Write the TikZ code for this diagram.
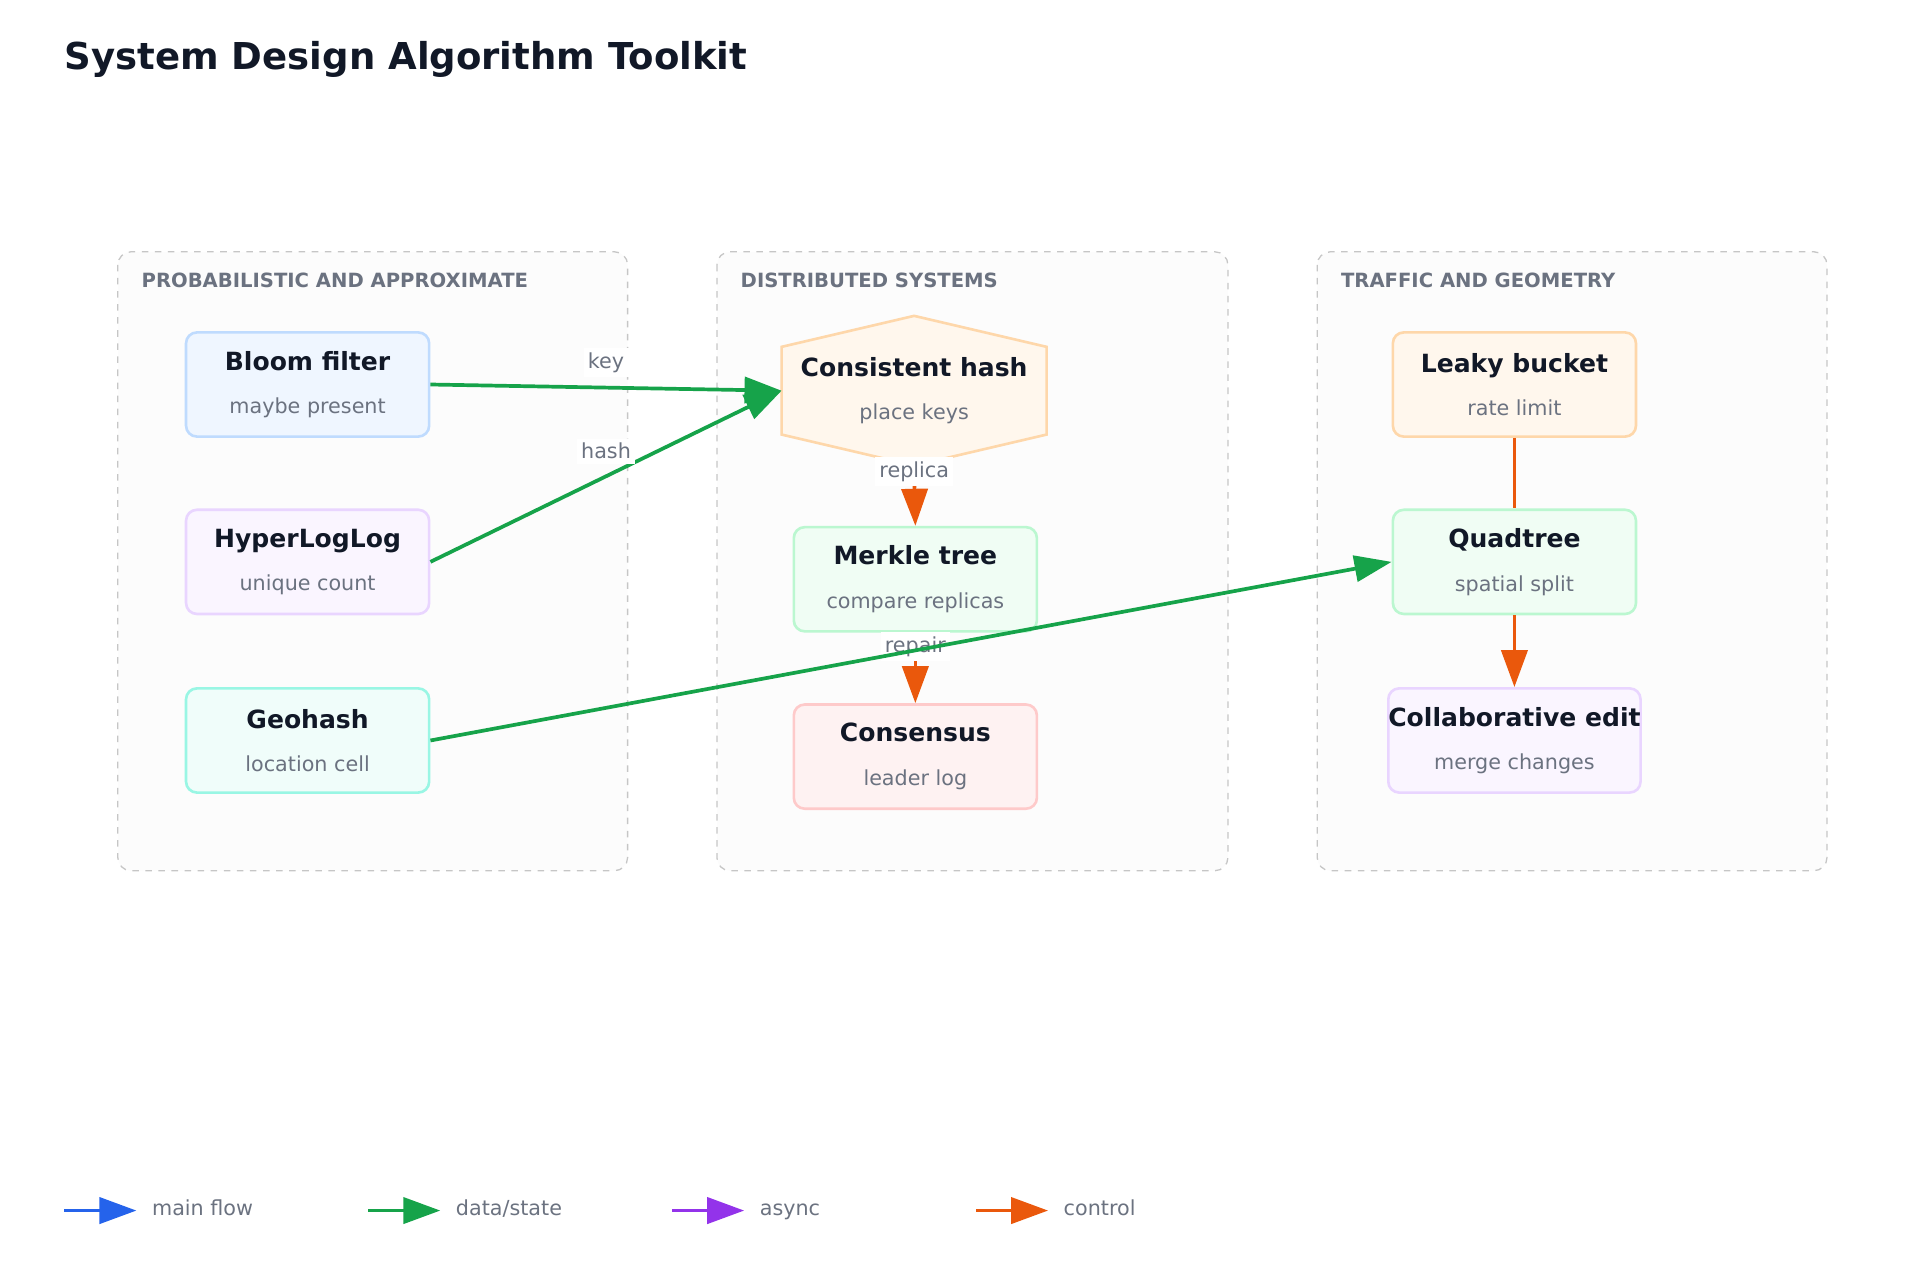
\documentclass[tikz,border=0pt]{standalone}
\usepackage{fontspec}
\setmainfont{DejaVu Sans}
\usetikzlibrary{arrows.meta,calc}
\definecolor{ink}{HTML}{111827}
\definecolor{muted}{HTML}{6B7280}
\definecolor{cgreen}{HTML}{16A34A}
\definecolor{corange}{HTML}{EA580C}
\definecolor{cblue}{HTML}{2563EB}
\definecolor{cpurple}{HTML}{9333EA}
\definecolor{blueln}{HTML}{BFDBFE}\definecolor{bluebg}{HTML}{EFF6FF}
\definecolor{purpln}{HTML}{E9D5FF}\definecolor{purpbg}{HTML}{FAF5FF}
\definecolor{tealln}{HTML}{99F6E4}\definecolor{tealbg}{HTML}{F0FDFA}
\definecolor{orngln}{HTML}{FED7AA}\definecolor{orngbg}{HTML}{FFF7ED}
\definecolor{grnln}{HTML}{BBF7D0}\definecolor{grnbg}{HTML}{F0FDF4}
\definecolor{redln}{HTML}{FECACA}\definecolor{redbg}{HTML}{FEF2F2}
\newcommand{\algtext}[2]{{\fontsize{11.5}{14}\selectfont\bfseries\color{ink}#1}\\[8pt]{\fontsize{9.5}{12}\selectfont\color{muted}#2}}
\tikzset{
  alg/.style={draw, rounded corners=5pt, line width=1.2pt, minimum width=196*0.02cm,
    minimum height=84*0.02cm, align=center, inner sep=0pt},
  grp/.style={draw=gray!45, dashed, fill=gray!2, rounded corners=6pt, line width=0.6pt},
  grplabel/.style={anchor=west, font=\fontsize{9}{11}\selectfont\bfseries, text=muted},
  elabel/.style={fill=white, font=\fontsize{9.5}{11}\selectfont, text=muted, inner sep=2pt},
  tip/.style={-{Triangle[length=17pt,width=12pt]}},
  flow/.style={line width=1.7pt, draw=#1},
}
\begin{document}
\begin{tikzpicture}[x=0.02cm,y=-0.02cm]
\useasboundingbox (0,0) rectangle (1548,1032);
\node[anchor=west, font=\fontsize{17}{20}\selectfont\bfseries, text=ink] (title) at (46,48) {System Design Algorithm Toolkit};
% groups
\draw[grp] (95,203) rectangle (506,702);
\draw[grp] (578,203) rectangle (990,702);
\draw[grp] (1062,203) rectangle (1473,702);
\node[grplabel] (g1) at (108,226) {PROBABILISTIC AND APPROXIMATE};
\node[grplabel] (g2) at (591,226) {DISTRIBUTED SYSTEMS};
\node[grplabel] (g3) at (1075,226) {TRAFFIC AND GEOMETRY};
% nodes
\node[alg, draw=blueln, fill=bluebg] (bloom) at (248,310) {\algtext{Bloom filter}{maybe present}};
\node[alg, draw=purpln, fill=purpbg] (hll) at (248,453) {\algtext{HyperLogLog}{unique count}};
\node[alg, draw=tealln, fill=tealbg] (geo) at (248,597) {\algtext{Geohash}{location cell}};
\node[minimum width=213*0.02cm, minimum height=120*0.02cm, inner sep=0pt, align=center] (chash) at (737,315) {};
\draw[line width=1.2pt, draw=orngln, fill=orngbg]
  (chash.north) -- ($(chash.north east)+(0,25)$) -- ($(chash.south east)+(0,-25)$) -- (chash.south)
  -- ($(chash.south west)+(0,-25)$) -- ($(chash.north west)+(0,25)$) -- cycle;
\node[align=center] at (chash) {\algtext{Consistent hash}{place keys}};
\node[alg, draw=grnln, fill=grnbg] (merkle) at (738,467) {\algtext{Merkle tree}{compare replicas}};
\node[alg, draw=redln, fill=redbg] (cons) at (738,610) {\algtext{Consensus}{leader log}};
\node[alg, draw=orngln, fill=orngbg] (leaky) at (1221,310) {\algtext{Leaky bucket}{rate limit}};
\node[alg, draw=grnln, fill=grnbg] (quad) at (1221,453) {\algtext{Quadtree}{spatial split}};
\node[alg, draw=purpln, fill=purpbg] (collab) at (1221,597) {\algtext{Collaborative edit}{merge changes}};
% edges
\draw[flow=cgreen, tip] (bloom.east) -- (chash.west) node[elabel, pos=0.5, above=4pt] {key};
\draw[flow=cgreen, tip] (hll.east) -- (chash.west) node[elabel, pos=0.5, above=5pt] {hash};
\draw[flow=corange, tip] (chash.south) -- node[elabel, pos=0.1] {replica} (merkle.north);
\draw[flow=corange, tip] (merkle.south) -- node[elabel, pos=0.2] {repair} (cons.north);
\draw[flow=cgreen, tip] (geo.east) -- (quad.west);
\draw[flow=corange] (leaky.south) -- (quad.north);
\draw[flow=corange, tip] (quad.south) -- (collab.north);
% legend
\foreach \x/\c/\t [count=\i] in {52/cblue/main flow, 297/cgreen/data\slash state, 542/cpurple/async, 787/corange/control}{
  \coordinate (l\i) at (\x,976);
  \draw[flow=\c, tip] (l\i) -- ++(58,0) node[right=3pt, text=muted, font=\fontsize{9.5}{11}\selectfont] (lt\i) {\strut\t};
}
\end{tikzpicture}
\end{document}
